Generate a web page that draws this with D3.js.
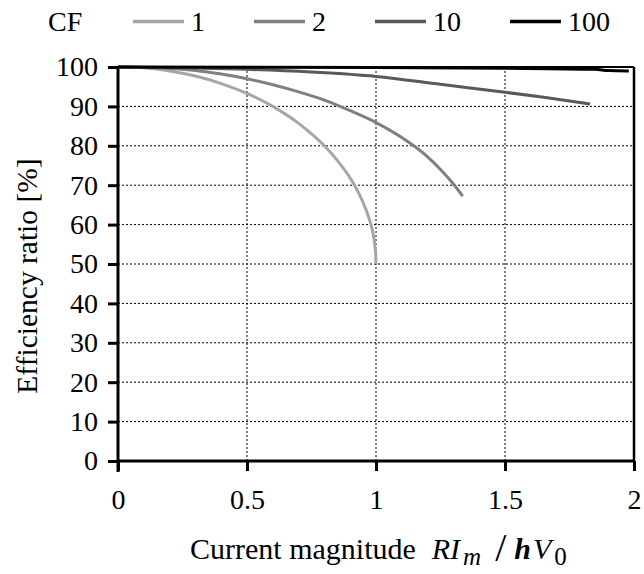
<!DOCTYPE html>
<html lang="en">
<head>
  <meta charset="UTF-8">
  <title>Efficiency ratio</title>
  <style>
    body { margin: 0; background: #fff; }
    text { font-family: 'Liberation Serif', 'Times New Roman', serif; fill: #000; }
  </style>
</head>
<body>
  <svg id="svg" width="644" height="574"></svg>
  <script src="https://d3js.org/d3.v7.min.js"></script>
  <script>
    // values: [current magnitude, efficiency %]
    const cf1 = [[0, 100], [0.1, 99.8], [0.2, 99.0], [0.3, 97.7], [0.4, 95.8], [0.5, 93.3],
      [0.6, 90.0], [0.7, 85.7], [0.8, 80.0], [0.85, 76.3], [0.9, 71.8], [0.92, 69.6],
      [0.95, 65.6], [0.97, 62.2], [0.985, 58.8], [0.996, 54.5], [0.999, 52], [1.0, 50]]
    const cf2 = [[0, 100], [0.1, 99.9], [0.2, 99.6], [0.3, 99.1], [0.4, 98.2], [0.5, 97.0],
      [0.6, 95.5], [0.7, 93.7], [0.8, 91.6], [0.9, 88.9], [1.0, 85.9], [1.1, 82.1],
      [1.2, 77.2], [1.25, 74.0], [1.3, 70.3], [1.336, 67.2]]
    const cf10 = [[0, 100], [0.25, 99.8], [0.5, 99.4], [0.75, 98.7], [1.0, 97.6], [1.25, 95.6],
      [1.5, 93.6], [1.65, 92.3], [1.83, 90.6]]
    const cf100 = [[0, 100], [1.0, 99.9], [1.5, 99.7], [1.85, 99.4], [1.9, 99.1], [1.98, 99.0]]

    const seriesNames = ['1', '2', '10', '100']
    const seriesData = [cf1, cf2, cf10, cf100]
    const seriesColors = ['#a6a6a6', '#808080', '#595959', '#000000']

    const xTicks = [0, 0.5, 1, 1.5, 2]
    const yTicks = [0, 10, 20, 30, 40, 50, 60, 70, 80, 90, 100]

    const svg = d3.select('#svg')

    const xScale = d3.scaleLinear().domain([0, 2]).range([118, 634])
    const yScale = d3.scaleLinear().domain([0, 100]).range([461, 67])

    // grid
    svg.append('g')
      .selectAll('line')
      .data(yTicks.slice(1))
      .enter()
      .append('line')
      .attr('x1', xScale(0))
      .attr('x2', xScale(2))
      .attr('y1', d => yScale(d))
      .attr('y2', d => yScale(d))
      .attr('stroke', '#000')
      .attr('stroke-width', d => d === 100 ? 2 : 1)
      .attr('stroke-dasharray', d => d === 100 ? null : '2,2')

    svg.append('g')
      .selectAll('line')
      .data(xTicks.slice(1, -1))
      .enter()
      .append('line')
      .attr('x1', d => xScale(d))
      .attr('x2', d => xScale(d))
      .attr('y1', yScale(0))
      .attr('y2', yScale(100))
      .attr('stroke', '#000')
      .attr('stroke-width', 1)
      .attr('stroke-dasharray', '2,2')

    // right border
    svg.append('line')
      .attr('x1', xScale(2)).attr('x2', xScale(2))
      .attr('y1', yScale(0)).attr('y2', yScale(100))
      .attr('stroke', '#000')
      .attr('stroke-width', 2.5)

    // axes
    const yAxis = svg.append('g')
      .attr('transform', `translate(${xScale(0)},0)`)
      .call(d3.axisLeft(yScale).tickValues(yTicks).tickSize(10).tickPadding(10))
    const xAxis = svg.append('g')
      .attr('transform', `translate(0,${yScale(0)})`)
      .call(d3.axisBottom(xScale).tickValues(xTicks).tickSize(10).tickPadding(18).tickFormat(d3.format('')))

    ;[xAxis, yAxis].forEach(a => {
      a.select('.domain').attr('stroke', '#000').attr('stroke-width', 3)
      a.selectAll('.tick line').attr('stroke', '#000').attr('stroke-width', 3)
      a.selectAll('.tick text')
        .style('font-family', "'Liberation Serif', serif")
        .style('font-size', '28px')
        .attr('fill', '#000')
    })
    yAxis.select('.domain').attr('d', `M0,${yScale(0) + 11}V${yScale(100)}`)
    xAxis.select('.domain').attr('d', `M${xScale(0)},0H${xScale(2)}`)

    // series
    const line = d3.line()
      .x(d => xScale(d[0]))
      .y(d => yScale(d[1]))
      .curve(d3.curveMonotoneX)

    svg.append('g')
      .selectAll('path')
      .data(seriesData)
      .enter()
      .append('path')
      .attr('d', d => line(d))
      .attr('fill', 'none')
      .attr('stroke', (d, i) => seriesColors[i])
      .attr('stroke-width', 3)

    // legend
    svg.append('text')
      .text('CF')
      .attr('x', 48)
      .attr('y', 31)
      .style('font-size', '28px')

    const legendX = [133, 254, 375, 510]
    const legend = svg.append('g')
      .selectAll('g')
      .data(seriesNames)
      .enter()
      .append('g')
    legend.append('line')
      .attr('x1', (d, i) => legendX[i])
      .attr('x2', (d, i) => legendX[i] + 51)
      .attr('y1', 21.5)
      .attr('y2', 21.5)
      .attr('stroke', (d, i) => seriesColors[i])
      .attr('stroke-width', 3.5)
    legend.append('text')
      .text(d => d)
      .attr('x', (d, i) => legendX[i] + 58)
      .attr('y', 31)
      .style('font-size', '28px')

    // axis titles
    svg.append('text')
      .text('Efficiency ratio [%]')
      .attr('transform', 'translate(37,276) rotate(-90)')
      .attr('text-anchor', 'middle')
      .style('font-size', '29.5px')

    const xt = svg.append('text')
      .attr('x', 190)
      .attr('y', 559)
      .style('font-size', '30px')
    xt.append('tspan').text('Current magnitude')
    xt.append('tspan').text('RI').style('font-style', 'italic').attr('dx', 16)
    xt.append('tspan').text('m').style('font-style', 'italic').style('font-size', '25px').attr('dx', 3).attr('dy', 6)
    xt.append('tspan').text('/').style('font-size', '40px').attr('dx', 14).attr('dy', -4)
    xt.append('tspan').text('h').style('font-weight', 'bold').style('font-style', 'italic').attr('dx', 8).attr('dy', -2)
    xt.append('tspan').text('V').style('font-style', 'italic').attr('dx', 2)
    xt.append('tspan').text('0').style('font-size', '25px').attr('dx', 3).attr('dy', 6)
  </script>
</body>
</html>
